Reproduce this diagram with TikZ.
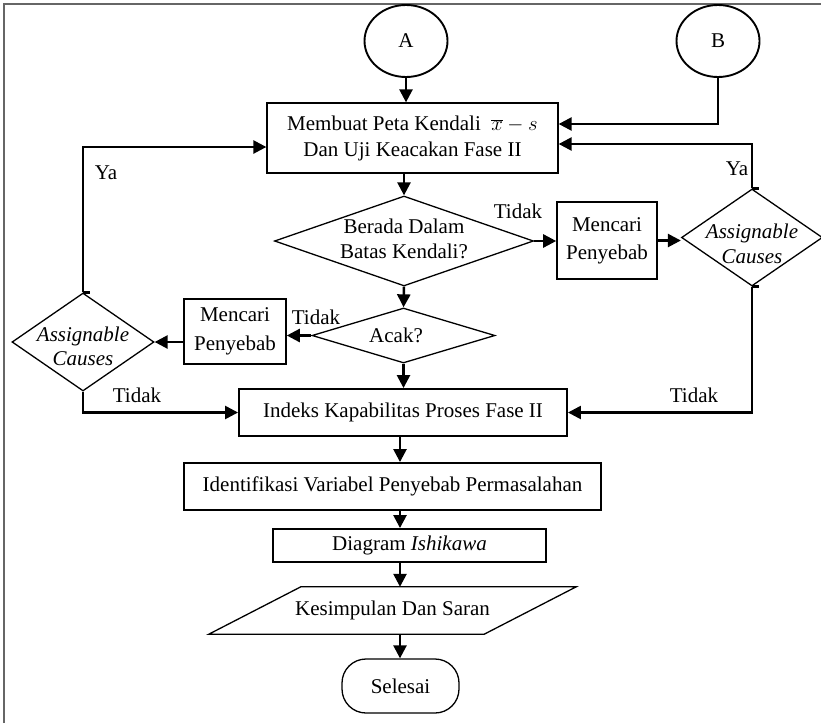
\documentclass[tikz,border=0pt]{standalone}
\usepackage{fontspec}
\setmainfont{Liberation Serif}
\usetikzlibrary{arrows.meta,shapes.geometric,calc}

\begin{document}
\begin{tikzpicture}[x=1pt,y=-1pt,
  every node/.style={font=\fontsize{21}{26}\selectfont},
  box/.style={draw, line width=1.3pt, inner sep=0pt, align=center},
  thickbox/.style={box, line width=1.9pt},
  midbox/.style={box, line width=1.6pt},
  decision/.style={draw, diamond, line width=1.3pt, inner sep=0pt},
  connector/.style={draw, ellipse, line width=1.9pt, inner sep=0pt,
    minimum width=83pt, minimum height=72pt},
  flow/.style={line width=2.5pt, -{Triangle[length=13pt,width=13pt]}},
  plain/.style={line width=2.5pt},
  lbl/.style={inner sep=0pt, align=center},
  frameline/.style={line width=1.5pt, draw=black!60}]

  \useasboundingbox (0,0) rectangle (821,723);

  % page frame (top and left edges)
  \draw[frameline] (4,723) -- (4,4) -- (821,4);

  % off-page connectors
  \node[connector] (A) at (406,41) {A};
  \node[connector] (B) at (718,41) {B};

  % main column
  \node[box, minimum width=291pt, minimum height=70pt] (m1) at (412.5,138)
    {\fontsize{21}{26}\selectfont Membuat Peta Kendali~ $\overline{x}-s$\\Dan Uji Keacakan Fase II};

  \node[decision, minimum width=259pt, minimum height=90pt] (d1) at (404,241) {};
  \node[lbl, font=\fontsize{21}{25}\selectfont] (d1t) at (404,239) {Berada Dalam\\Batas Kendali?};

  \node[decision, minimum width=183pt, minimum height=55pt] (d2) at (403.5,335.5) {};
  \node[lbl] (d2t) at (396,335) {Acak?};

  \node[thickbox, minimum width=328pt, minimum height=47pt] (ik) at (403,412.5)
    {Indeks Kapabilitas Proses Fase II};
  \node[thickbox, minimum width=417pt, minimum height=47pt] (iv) at (392.5,486.5)
    {Identifikasi Variabel Penyebab Permasalahan};
  \node[thickbox, minimum width=273pt, minimum height=33pt] (dg) at (409.5,545.5)
    {Diagram \textit{Ishikawa}};

  \node[lbl, minimum width=275pt, minimum height=47pt] (kes) at (392.5,610.5)
    {Kesimpulan Dan Saran};
  \draw[line width=1.3pt] ($(kes.north west)+(46,0)$) -- ($(kes.north east)+(46,0)$)
    -- ($(kes.south east)+(-46,0)$) -- ($(kes.south west)+(-46,0)$) -- cycle;

  \node[box, rounded corners=24pt, minimum width=117pt, minimum height=54pt] (sel)
    at (400.5,686) {Selesai};

  % right branch
  \node[midbox, minimum width=100pt, minimum height=77pt,
    font=\fontsize{21}{28}\selectfont] (mc1) at (607,240.5) {Mencari\\Penyebab};
  \node[decision, minimum width=141pt, minimum height=97pt] (ac1) at (752,237.5) {};
  \node[lbl, font=\fontsize{21}{25}\selectfont\itshape] (ac1t) at (752,244)
    {Assignable\\Causes};

  % left branch
  \node[midbox, minimum width=102pt, minimum height=65pt,
    font=\fontsize{21}{29}\selectfont] (mc2) at (235,331.5) {Mencari\\Penyebab};
  \node[decision, minimum width=142pt, minimum height=98pt] (ac2) at (83,342) {};
  \node[lbl, font=\fontsize{21}{24}\selectfont\itshape] (ac2t) at (83,346)
    {Assignable\\Causes};

  % vertical axis of the lower chain
  \coordinate (axis) at (400,0);

  % connectors
  \draw[flow] (A.south) -- (A.south |- m1.north);
  \draw[flow] (B.south) |- ($(m1.east)+(0,-14)$);
  \draw[flow] (ac1.north) |- ($(m1.east)+(0,6)$);
  \draw[flow] (ac2.north) |- ($(m1.west)+(0,9)$);
  \draw[flow] (d1.north |- m1.south) -- (d1.north);
  \draw[flow] (d1.east) -- (mc1.west |- d1.east);
  \draw[flow] (mc1.east) -- (mc1.east -| ac1.west);
  \draw[flow] (d1.south) -- (d2.north);
  \draw[flow] (d2.west) -- (mc2.east |- d2.west);
  \draw[flow] (mc2.west |- ac2.east) -- (ac2.east);
  \draw[flow] (d2.south) -- (d2.south |- ik.north);
  \draw[flow] (ac2.south) |- (ik.west);
  \draw[flow] (ac1.south) |- (ik.east);
  \draw[flow] (ik.south -| axis) -- (iv.north -| axis);
  \draw[flow] (iv.south -| axis) -- (dg.north -| axis);
  \draw[flow] (dg.south -| axis) -- (kes.north -| axis);
  \draw[flow] (kes.south -| axis) -- (sel.north -| axis);

  % short joins at the diamond apexes
  \draw[plain] (ac1.north) -- ++(7,0);
  \draw[plain] (ac1.south) -- ++(7,0);
  \draw[plain] (ac2.north) -- ++(7,0);

  % branch labels
  \node[lbl] (t1) at (518,211) {Tidak};
  \node[lbl] (t2) at (316,317) {Tidak};
  \node[lbl] (t3) at (137,395) {Tidak};
  \node[lbl] (t4) at (694,395) {Tidak};
  \node[lbl] (y1) at (106,173) {Ya};
  \node[lbl] (y2) at (737,169) {Ya};
\end{tikzpicture}
\end{document}
